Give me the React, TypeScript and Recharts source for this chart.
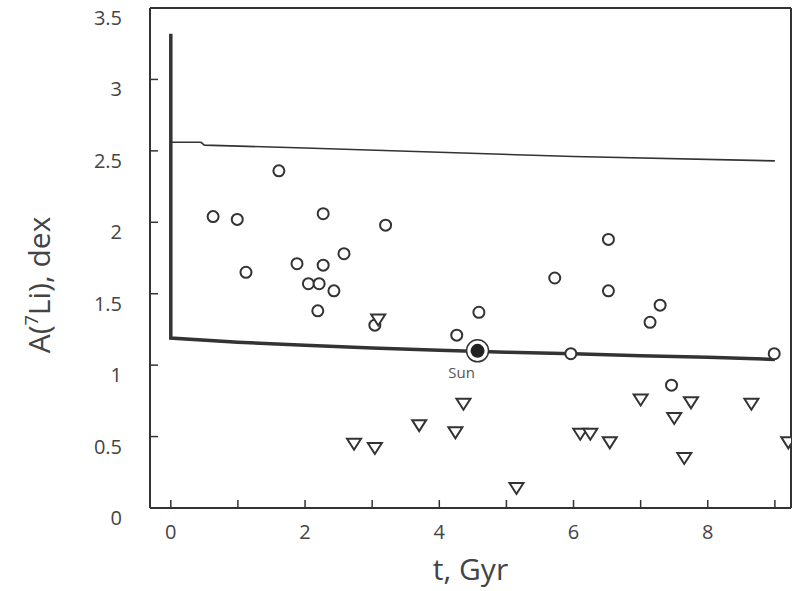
import React from "react";
import { ComposedChart, Line, Scatter, XAxis, YAxis } from "recharts";

// Open circles: detections
const circleT = [0.63, 0.99, 1.12, 1.61, 1.88, 2.05, 2.19, 2.21, 2.27, 2.27, 2.43, 2.58, 3.04, 3.2, 4.26, 4.59, 5.72, 5.96, 6.52, 6.52, 7.14, 7.29, 7.46, 8.99];
const circleV = [2.04, 2.02, 1.65, 2.36, 1.71, 1.57, 1.38, 1.57, 2.06, 1.7, 1.52, 1.78, 1.28, 1.98, 1.21, 1.37, 1.61, 1.08, 1.88, 1.52, 1.3, 1.42, 0.86, 1.08];
// Down triangles: upper limits
const triT = [2.73, 3.04, 3.09, 3.7, 4.24, 4.36, 5.15, 6.1, 6.25, 6.54, 7.0, 7.5, 7.65, 7.75, 8.65, 9.2];
const triV = [0.45, 0.42, 1.32, 0.58, 0.53, 0.73, 0.14, 0.52, 0.52, 0.46, 0.76, 0.63, 0.35, 0.74, 0.73, 0.46];
// Sun
const sunT = [4.57];
const sunV = [1.1];
// Model curves
const upperT = [0, 0.45, 0.5, 2, 4, 6, 9];
const upperV = [2.56, 2.56, 2.54, 2.52, 2.49, 2.46, 2.43];
const lowerT = [0, 0, 1, 2, 3, 4, 5, 6, 7, 8, 9];
const lowerV = [3.32, 1.19, 1.16, 1.14, 1.12, 1.105, 1.09, 1.08, 1.065, 1.055, 1.04];

const xTicks = [0, 1, 2, 3, 4, 5, 6, 7, 8, 9];
const yTicks = [0, 0.5, 1, 1.5, 2, 2.5, 3, 3.5];
const xDomain = [-0.31, 9.24];
const yDomain = [0, 3.5];

const zip = (t: number[], v: number[]) => t.map((x, i) => ({ t: x, v: v[i] }));
const circles = zip(circleT, circleV);
const tris = zip(triT, triV);
const sun = zip(sunT, sunV);
const upper = zip(upperT, upperV);
const lower = zip(lowerT, lowerV);

const INK = "#333";
const TXT = "#444";
const FONT = "'Open Sans', 'Noto Sans', sans-serif";

const CircleShape = (p: any) => (
  <circle cx={p.cx} cy={p.cy} r={5.5} fill="#fff" stroke={INK} strokeWidth={2} />
);
const TriShape = (p: any) => (
  <polygon
    points={`${p.cx - 7},${p.cy - 5} ${p.cx + 7},${p.cy - 5} ${p.cx},${p.cy + 6}`}
    fill="#fff"
    stroke={INK}
    strokeWidth={2}
  />
);
const SunShape = (p: any) => (
  <g>
    <circle cx={p.cx} cy={p.cy} r={11} fill="#fff" stroke={INK} strokeWidth={1.5} />
    <circle cx={p.cx} cy={p.cy} r={7} fill="#222" />
    <text x={p.cx - 16} y={p.cy + 27} textAnchor="middle" fontSize={15} fill="#555" fontFamily={FONT}>
      Sun
    </text>
  </g>
);
const NoShape = () => <g />;

const BottomTick = (p: any) => {
  const { x, y, payload } = p;
  const v = payload.value;
  if (v % 2 !== 0) return <g />;
  return (
    <text x={x} y={y + 31} textAnchor="middle" fontSize={20} fill={TXT} fontFamily={FONT}>
      {v}
    </text>
  );
};
const LeftTick = (p: any) => {
  const { x, y, payload } = p;
  return (
    <text x={x - 28} y={y + 17} textAnchor="end" fontSize={20} fill={TXT} fontFamily={FONT}>
      {payload.value}
    </text>
  );
};

const axisLine = { stroke: INK, strokeWidth: 2 };
const tickLine = { stroke: INK, strokeWidth: 1.5 };

export default function App() {
  return (
    <div style={{ position: "absolute", left: 0, top: 0, background: "#fff" }}>
      <ComposedChart width={796} height={591} margin={{ top: 7, right: 4, bottom: 0, left: 0 }}>
        <XAxis
          xAxisId="b"
          type="number"
          dataKey="t"
          domain={xDomain}
          ticks={xTicks}
          allowDataOverflow
          height={83}
          tickSize={-8}
          tickMargin={8}
          tickLine={tickLine}
          axisLine={axisLine}
          tick={<BottomTick />}
          interval={0}
          label={{
            value: "t, Gyr",
            position: "insideBottom",
            offset: 11,
            style: { fontSize: 30, fill: TXT, fontFamily: FONT },
          }}
        />
        <XAxis
          xAxisId="top"
          orientation="top"
          type="number"
          dataKey="t"
          domain={xDomain}
          ticks={xTicks}
          allowDataOverflow
          height={1}
          tickSize={-8}
          tickMargin={8}
          tickLine={tickLine}
          axisLine={axisLine}
          tick={false}
          interval={0}
        />
        <YAxis
          yAxisId="l"
          type="number"
          domain={yDomain}
          ticks={yTicks}
          allowDataOverflow
          width={150}
          tickSize={-8}
          tickMargin={8}
          tickLine={tickLine}
          axisLine={axisLine}
          tick={<LeftTick />}
          interval={0}
          label={{
            content: () => (
              <text
                transform="translate(50,285) rotate(-90)"
                textAnchor="middle"
                fontSize={30}
                fill={TXT}
                fontFamily={FONT}
              >
                A(<tspan fontSize={18} dy={-12}>7</tspan>
                <tspan dy={12}>Li), dex</tspan>
              </text>
            ),
          }}
        />
        <YAxis
          yAxisId="r"
          orientation="right"
          type="number"
          domain={yDomain}
          ticks={yTicks}
          allowDataOverflow
          width={1}
          tickSize={-8}
          tickMargin={8}
          tickLine={tickLine}
          axisLine={axisLine}
          tick={false}
          interval={0}
        />
        {/* invisible series so the mirrored frame axes get their ticks */}
        <Scatter
          xAxisId="top"
          yAxisId="r"
          data={circles}
          dataKey="v"
          shape={<NoShape />}
          isAnimationActive={false}
        />
        <Line
          xAxisId="b"
          yAxisId="l"
          data={upper}
          dataKey="v"
          type="linear"
          stroke={INK}
          strokeWidth={1.6}
          dot={false}
          isAnimationActive={false}
        />
        <Line
          xAxisId="b"
          yAxisId="l"
          data={lower}
          dataKey="v"
          type="linear"
          stroke={INK}
          strokeWidth={3.5}
          dot={false}
          isAnimationActive={false}
        />
        <Scatter
          xAxisId="b"
          yAxisId="l"
          data={circles}
          dataKey="v"
          shape={<CircleShape />}
          isAnimationActive={false}
        />
        <Scatter
          xAxisId="b"
          yAxisId="l"
          data={tris}
          dataKey="v"
          shape={<TriShape />}
          isAnimationActive={false}
        />
        <Scatter
          xAxisId="b"
          yAxisId="l"
          data={sun}
          dataKey="v"
          shape={<SunShape />}
          isAnimationActive={false}
        />
      </ComposedChart>
    </div>
  );
}
